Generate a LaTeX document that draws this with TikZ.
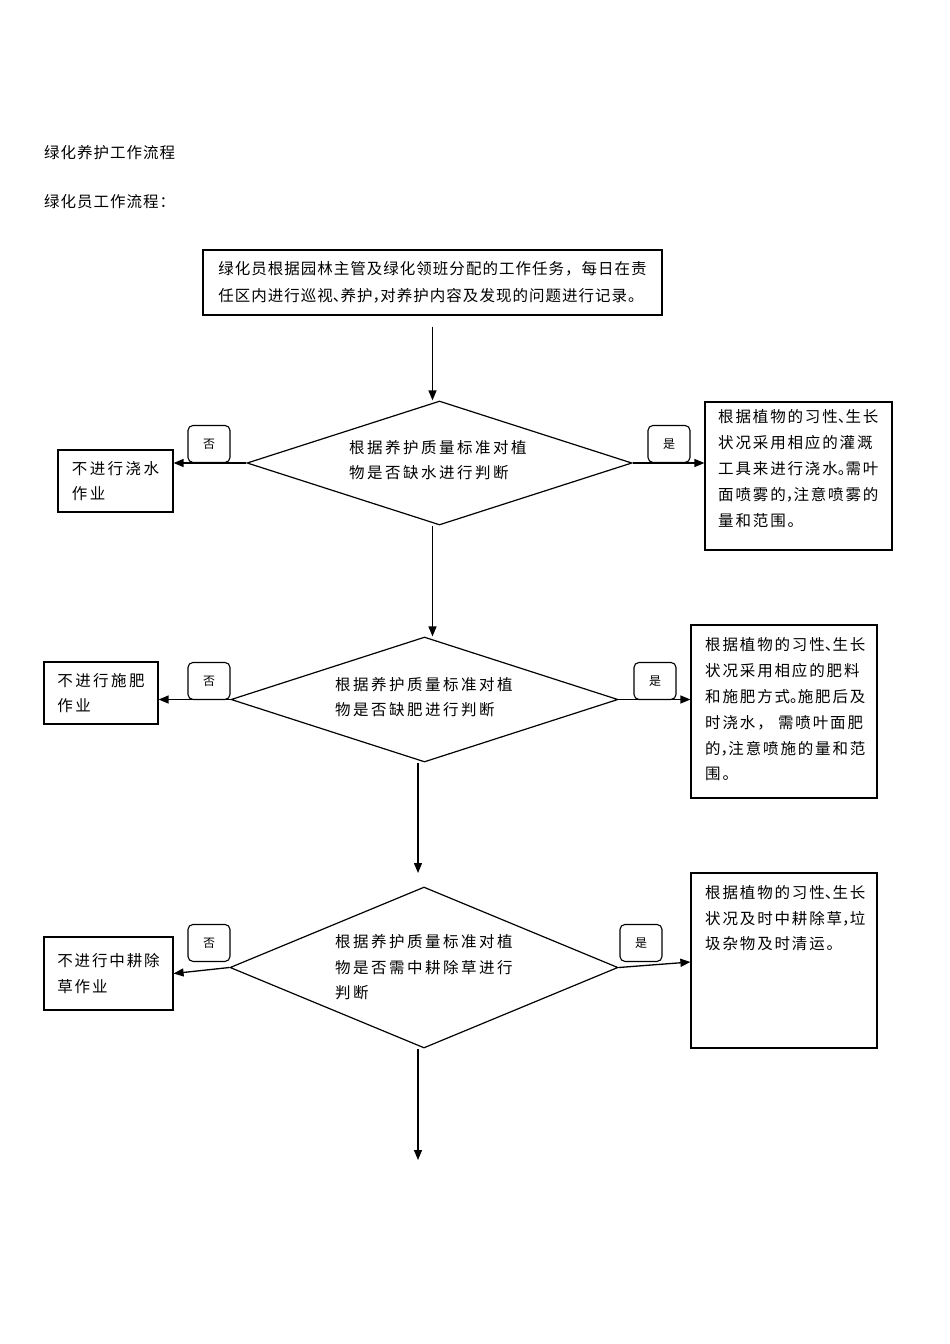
\documentclass[tikz,border=0pt]{standalone}
\usepackage{fontspec}
\newfontfamily\cjk{Noto Sans CJK SC}
\newfontfamily\cjkt[LetterSpace=6.5]{Noto Sans CJK SC}
\newfontfamily\cjkw[LetterSpace=16]{Noto Sans CJK SC}
\newfontfamily\cjkr[LetterSpace=12]{Noto Sans CJK SC}
\usetikzlibrary{shapes.geometric,arrows.meta}
\newcommand{\halfp}[1]{\makebox[0.5em][l]{#1}}
\begin{document}
\begin{tikzpicture}[x=1pt,y=-1pt,
  txtT/.style={font=\cjkt\fontsize{15.5}{27}\selectfont, align=left, inner sep=0pt},
  box/.style={draw, line width=1.2pt, inner sep=0pt, align=left},
  dec/.style={draw, diamond, inner sep=0pt, line width=1.2pt},
  dtxt/.style={font=\cjkw\fontsize{15.5}{25}\selectfont, align=left, inner sep=0pt},
  ltxt/.style={font=\cjkw\fontsize{15.5}{25.5}\selectfont},
  rtxt/.style={font=\cjkr\fontsize{15.5}{25.8}\selectfont, align=left, inner sep=0pt},
  yn/.style={draw, line width=1.1pt, rounded corners=5pt, minimum width=42pt, minimum height=37pt, inner sep=0pt, font=\cjk\fontsize{12}{12}\selectfont, anchor=south},
  arr/.style={-{Triangle[length=10pt,width=8pt]}, line width=1.3pt}]
\useasboundingbox (0,0) rectangle (950,1344);
\fill[white] (0,0) rectangle (950,1344);

% titles
\node[txtT, anchor=west] (title) at (44,153) {绿化养护工作流程};
\node[txtT, anchor=west] (sub) at (44,202) {绿化员工作流程：};

% top box
\node[box, txtT, minimum width=459pt, minimum height=65pt] (top) at (432.5,282.5)
  {绿化员根据园林主管及绿化领班分配的工作任务，每日在责\\任区内进行巡视\halfp{、}养护\halfp{，}对养护内容及发现的问题进行记录。};

% diamonds
\node[dec, minimum width=385pt, minimum height=124pt] (d1) at (439.5,463) {};
\node[dec, minimum width=387pt, minimum height=125pt] (d2) at (424.5,699.5) {};
\node[dec, minimum width=388pt, minimum height=161pt] (d3) at (424,967.5) {};
\node[dtxt, anchor=west] (d1t) at (349,460.5) {根据养护质量标准对植\\物是否缺水进行判断};
\node[dtxt, anchor=west] (d2t) at (335,697.5) {根据养护质量标准对植\\物是否缺肥进行判断};
\node[dtxt, anchor=west, font=\cjkw\fontsize{15.5}{25.5}\selectfont] (d3t) at (335,967.5) {根据养护质量标准对植\\物是否需中耕除草进行\\判断};

% left boxes
\node[box, ltxt, minimum width=115pt, minimum height=62pt] (n1) at (115.5,481) {不进行浇水\\作业};
\node[box, ltxt, minimum width=114pt, minimum height=62pt] (n2) at (101,693) {不进行施肥\\作业};
\node[box, ltxt, font=\cjkr\fontsize{15.5}{26}\selectfont, minimum width=129pt, minimum height=73pt] (n3) at (108.5,973.5) {不进行中耕除\\草作业};

% right boxes
\node[box, minimum width=187pt, minimum height=148pt] (r1) at (798.5,476) {};
\node[rtxt, anchor=west, font=\cjkr\fontsize{15.5}{26}\selectfont] (r1t) at (718,469) {根据植物的习性\halfp{、}生长\\状况采用相应的灌溉\\工具来进行浇水\halfp{。}需叶\\面喷雾的\halfp{，}注意喷雾的\\量和范围。};
\node[box, minimum width=186pt, minimum height=173pt] (r2) at (784,711.5) {};
\node[rtxt, anchor=west] (r2t) at (705,709.5) {根据植物的习性\halfp{、}生长\\状况采用相应的肥料\\和施肥方式\halfp{。}施肥后及\\时浇水， 需喷叶面肥\\的\halfp{，}注意喷施的量和范\\围。};
\node[box, minimum width=186pt, minimum height=175pt] (r3) at (784,960.5) {};
\node[rtxt, anchor=west, font=\cjkr\fontsize{15.5}{25.5}\selectfont] (r3t) at (705,918.5) {根据植物的习性\halfp{、}生长\\状况及时中耕除草\halfp{，}垃\\圾杂物及时清运。};

% yes / no labels
\node[yn] (no1) at (209,463) {否};
\node[yn] (yes1) at (669,463) {是};
\node[yn] (no2) at (209,700) {否};
\node[yn] (yes2) at (655,700) {是};
\node[yn] (no3) at (209,962) {否};
\node[yn] (yes3) at (641,962) {是};

% coordinates for free ends
\coordinate (a0) at ([yshift=-11pt]top.south);
\coordinate (colB) at (418,0);
\coordinate (a3) at (418,873);
\coordinate (a4) at (418,1160);

% vertical connectors
\draw[arr] (a0) -- (d1.north -| a0);
\draw[arr] (d1.south -| a0) -- (d2.north -| a0);
\draw[arr] (d2.south -| colB) -- (a3);
\draw[arr] (d3.south -| colB) -- (a4);

% horizontal connectors
\draw[arr] (d1.west) -- (d1.west -| n1.east);
\draw[arr] (d1.east) -- (d1.east -| r1.west);
\draw[arr] (d2.west) -- (d2.west -| n2.east);
\draw[arr] (d2.east) -- (d2.east -| r2.west);
\draw[arr] (d3.west) -- (n3.east);
\draw[arr] (d3.east) -- ([yshift=-1.5pt]r3.west);
\end{tikzpicture}
\end{document}
